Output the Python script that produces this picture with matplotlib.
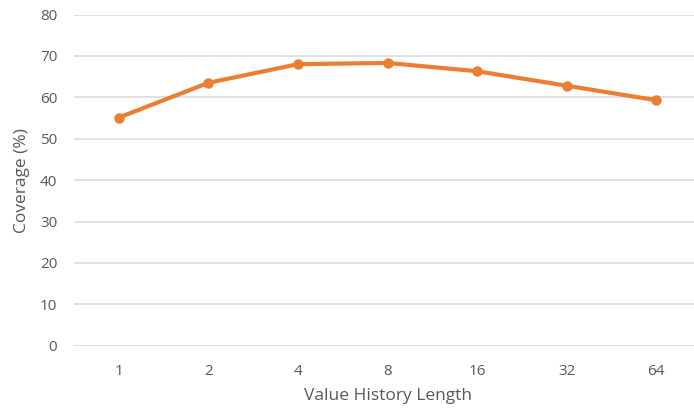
import matplotlib.pyplot as plt

lengths = ["1", "2", "4", "8", "16", "32", "64"]
coverage = [55.1, 63.5, 68.0, 68.3, 66.3, 62.8, 59.3]

plt.rcParams['font.family'] = ['Open Sans', 'DejaVu Sans']

fig = plt.figure(figsize=(6.94, 4.15), dpi=100)
ax = fig.add_axes([74/694, 1 - 345.7/415, 627/694, (345.7 - 14.5)/415])

x = range(len(lengths))
ax.plot(x, coverage, color="#ED7D31", lw=3, marker="o", markersize=6.5)

ax.set_xlim(-0.5, len(lengths) - 0.5)
ax.set_ylim(0, 80)
ax.set_yticks(range(0, 81, 10))
ax.set_xticks(list(x))
ax.set_xticklabels(lengths)
ax.grid(True, axis="y", color="#D9D9D9", lw=1.1)
ax.set_axisbelow(True)
for s in ax.spines.values():
    s.set_visible(False)
ax.tick_params(length=0, labelsize=11, colors="#595959", pad=12)
ax.tick_params(axis="x", pad=13)
ax.set_xlabel("Value History Length", fontsize=12.5, color="#595959", labelpad=7)
ax.set_ylabel("Coverage (%)", fontsize=12.5, color="#595959", labelpad=7)

fig.savefig("out.png", dpi=100)
